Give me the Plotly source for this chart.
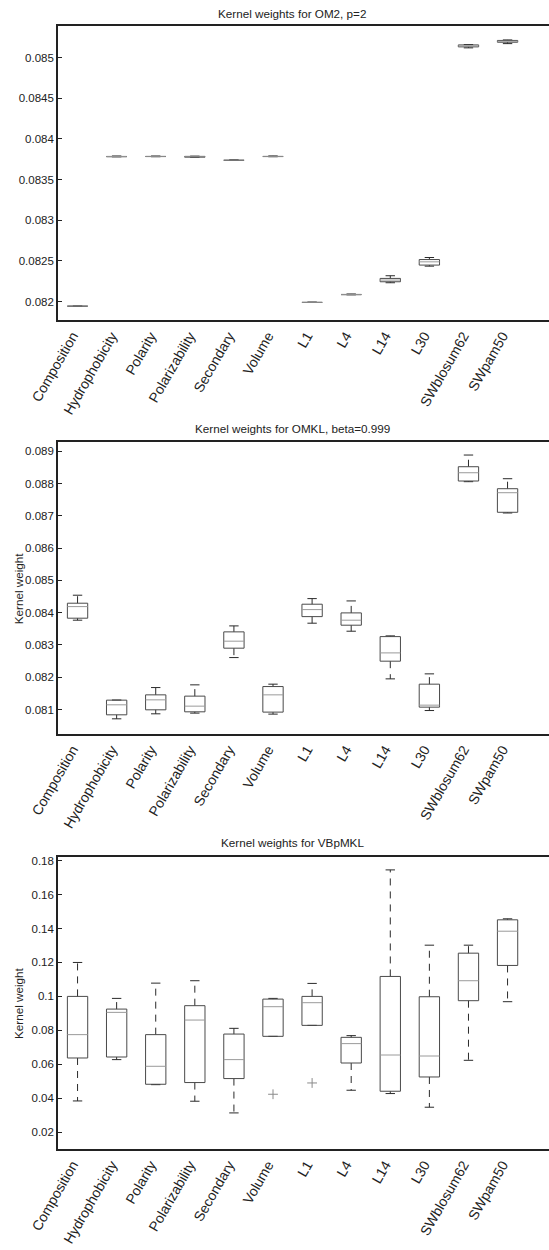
import plotly.graph_objects as go

categories = ["Composition", "Hydrophobicity", "Polarity", "Polarizability", "Secondary",
              "Volume", "L1", "L4", "L14", "L30", "SWblosum62", "SWpam50"]

# Kernel weights for OM2, p=2 (box statistics per kernel)
om2_min = [0.081942, 0.083780, 0.083781, 0.083772, 0.083735, 0.083781,
           0.081989, 0.082084, 0.082232, 0.082436, 0.085119, 0.085171]
om2_q1 = [0.081944, 0.083782, 0.083783, 0.083775, 0.083737, 0.083783,
          0.081990, 0.082086, 0.082244, 0.082449, 0.085131, 0.085188]
om2_med = [0.081947, 0.083785, 0.083786, 0.083780, 0.083740, 0.083786,
           0.081992, 0.082089, 0.082265, 0.082489, 0.085143, 0.085200]
om2_q3 = [0.081950, 0.083788, 0.083788, 0.083785, 0.083743, 0.083789,
          0.081994, 0.082092, 0.082285, 0.082517, 0.085155, 0.085210]
om2_max = [0.081952, 0.083790, 0.083790, 0.083788, 0.083745, 0.083791,
           0.081995, 0.082094, 0.082318, 0.082542, 0.085160, 0.085216]
om2_out_cat = []
om2_out_val = []

# Kernel weights for OMKL, beta=0.999
omkl_min = [0.083768, 0.080712, 0.080867, 0.080889, 0.082610, 0.080858,
            0.083675, 0.083427, 0.081950, 0.080969, 0.088060, 0.087090]
omkl_q1 = [0.083830, 0.080836, 0.080991, 0.080929, 0.082901, 0.080920,
           0.083879, 0.083613, 0.082498, 0.081074, 0.088080, 0.087111]
omkl_med = [0.084189, 0.081146, 0.081300, 0.081105, 0.083118, 0.081455,
            0.084096, 0.083768, 0.082755, 0.081136, 0.088337, 0.087718]
omkl_q3 = [0.084294, 0.081291, 0.081455, 0.081415, 0.083406, 0.081712,
           0.084263, 0.083994, 0.083260, 0.081786, 0.088523, 0.087842]
omkl_max = [0.084542, 0.081295, 0.081681, 0.081765, 0.083591, 0.081786,
            0.084437, 0.084365, 0.083282, 0.082105, 0.088885, 0.088152]
omkl_out_cat = []
omkl_out_val = []

# Kernel weights for VBpMKL
vb_min = [0.03841, 0.06276, 0.04800, 0.03824, 0.03135, 0.07647,
          0.08294, 0.04471, 0.04276, 0.03471, 0.06235, 0.09688]
vb_q1 = [0.06371, 0.06429, 0.04824, 0.04924, 0.05159, 0.07647,
         0.08294, 0.06076, 0.04412, 0.05253, 0.09747, 0.11824]
vb_med = [0.07747, 0.09059, 0.05882, 0.08606, 0.06276, 0.09394,
          0.09629, 0.07218, 0.06547, 0.06488, 0.10924, 0.13841]
vb_q3 = [0.10000, 0.09253, 0.07747, 0.09453, 0.07782, 0.09841,
         0.10000, 0.07588, 0.11176, 0.09980, 0.12547, 0.14512]
vb_max = [0.12000, 0.09882, 0.10782, 0.10924, 0.08118, 0.09882,
          0.10765, 0.07688, 0.17453, 0.13018, 0.13018, 0.14571]
vb_out_cat = ["Volume", "L1"]
vb_out_val = [0.04235, 0.04900]

# Axis tick labels
om2_ticks = [0.082, 0.0825, 0.083, 0.0835, 0.084, 0.0845, 0.085]
om2_ticktext = ["0.082", "0.0825", "0.083", "0.0835", "0.084", "0.0845", "0.085"]
omkl_ticks = [0.081, 0.082, 0.083, 0.084, 0.085, 0.086, 0.087, 0.088, 0.089]
omkl_ticktext = ["0.081", "0.082", "0.083", "0.084", "0.085", "0.086", "0.087", "0.088", "0.089"]
vb_ticks = [0.02, 0.04, 0.06, 0.08, 0.1, 0.12, 0.14, 0.16, 0.18]
vb_ticktext = ["0.02", "0.04", "0.06", "0.08", "0.1", "0.12", "0.14", "0.16", "0.18"]

titles = ["Kernel weights for OM2, p=2", "Kernel weights for OMKL, beta=0.999",
          "Kernel weights for VBpMKL"]

# ---- styling / layout constants ----
W, H = 549, 1250
ML = 58
FONT = "Liberation Sans, Arial, sans-serif"
BOX_HW = 0.26      # half box width (category units)
CAP_HW = 0.12      # half whisker-cap width
BOX_COLOR = "#4a4a4a"
MED_COLOR = "#9a9a9a"
WHISK_COLOR = "#2a2a2a"
OUT_COLOR = "#8a8a8a"

# pixel extents of each panel's plotting area (top, bottom)
panel_px = [(24, 319), (441, 733.3), (856, 1149.3)]
y_ranges = [[0.081768, 0.085388], [0.080238, 0.08928], [0.00982, 0.18235]]
title_px = [12, 427.3, 842.3]

fig = go.Figure()


def add_panel(n, mins, q1s, meds, q3s, maxs, out_cat, out_val):
    xa = "x" if n == 1 else f"x{n}"
    ya = "y" if n == 1 else f"y{n}"
    wx, wy, cx, cy, bx, by, mx, my = [], [], [], [], [], [], [], []
    for i, cat in enumerate(categories):
        p = i + 1
        lo, a, m, b, hi = mins[i], q1s[i], meds[i], q3s[i], maxs[i]
        # whiskers
        wx += [p, p, None, p, p, None]
        wy += [b, hi, None, a, lo, None]
        # caps
        cx += [p - CAP_HW, p + CAP_HW, None, p - CAP_HW, p + CAP_HW, None]
        cy += [hi, hi, None, lo, lo, None]
        # box
        bx += [p - BOX_HW, p + BOX_HW, p + BOX_HW, p - BOX_HW, p - BOX_HW, None]
        by += [a, a, b, b, a, None]
        # median
        mx += [p - BOX_HW, p + BOX_HW, None]
        my += [m, m, None]
    common = dict(xaxis=xa, yaxis=ya, mode="lines", hoverinfo="skip", showlegend=False)
    fig.add_trace(go.Scatter(x=wx, y=wy, line=dict(color=WHISK_COLOR, width=1, dash="7px,6px"), **common))
    fig.add_trace(go.Scatter(x=cx, y=cy, line=dict(color=WHISK_COLOR, width=1), **common))
    fig.add_trace(go.Scatter(x=bx, y=by, line=dict(color=BOX_COLOR, width=1), **common))
    fig.add_trace(go.Scatter(x=mx, y=my, line=dict(color=MED_COLOR, width=1), **common))
    if out_cat:
        ox = [categories.index(c) + 1 for c in out_cat]
        fig.add_trace(go.Scatter(x=ox, y=out_val, xaxis=xa, yaxis=ya, mode="markers",
                                 marker=dict(symbol="cross-thin", size=7,
                                             line=dict(color=OUT_COLOR, width=1)),
                                 hoverinfo="skip", showlegend=False))


add_panel(1, om2_min, om2_q1, om2_med, om2_q3, om2_max, om2_out_cat, om2_out_val)
add_panel(2, omkl_min, omkl_q1, omkl_med, omkl_q3, omkl_max, omkl_out_cat, omkl_out_val)
add_panel(3, vb_min, vb_q1, vb_med, vb_q3, vb_max, vb_out_cat, vb_out_val)

layout = dict(width=W, height=H, margin=dict(l=ML, r=0, t=0, b=0, pad=0),
              paper_bgcolor="white", plot_bgcolor="white", showlegend=False,
              font=dict(family=FONT, color="#222222"))

yticks = [(om2_ticks, om2_ticktext), (omkl_ticks, omkl_ticktext), (vb_ticks, vb_ticktext)]
annotations = []
for n in range(1, 4):
    top, bot = panel_px[n - 1]
    dom = [1 - bot / H, 1 - top / H]
    xk = "xaxis" if n == 1 else f"xaxis{n}"
    yk = "yaxis" if n == 1 else f"yaxis{n}"
    layout[xk] = dict(domain=[0, 1], anchor="y" if n == 1 else f"y{n}",
                      range=[0.5, 13.06], tickmode="array",
                      tickvals=list(range(1, len(categories) + 1)), ticktext=categories,
                      tickangle=-60, tickfont=dict(size=14, family=FONT, color="#222222"),
                      ticklabelshift=-5,
                      ticks="", showline=True, linewidth=1.6, linecolor="#222222",
                      mirror=True, showgrid=False, zeroline=False, fixedrange=True)
    tv, tt = yticks[n - 1]
    layout[yk] = dict(domain=dom, anchor="x" if n == 1 else f"x{n}",
                      range=y_ranges[n - 1], tickmode="array", tickvals=tv, ticktext=tt,
                      ticks="inside", ticklen=4, tickwidth=1, tickcolor="#222222",
                      tickfont=dict(size=11.5, family=FONT, color="#222222"),
                      showline=True, linewidth=1.6, linecolor="#222222",
                      showgrid=False, zeroline=False, fixedrange=True)
    annotations.append(dict(text=titles[n - 1], xref="paper", yref="paper",
                            x=(292 - ML) / (W - ML), y=1 - title_px[n - 1] / H,
                            xanchor="center", yanchor="middle", showarrow=False,
                            font=dict(size=11.7, family=FONT, color="#222222")))
    if n > 1:
        annotations.append(dict(text="Kernel weight", xref="paper", yref="paper",
                                x=(18 - ML) / (W - ML), y=1 - (top + bot) / 2 / H,
                                xanchor="center", yanchor="middle", textangle=-90,
                                showarrow=False,
                                font=dict(size=11.7, family=FONT, color="#222222")))
layout["annotations"] = annotations
fig.update_layout(**layout)

fig.write_html("out.html")
